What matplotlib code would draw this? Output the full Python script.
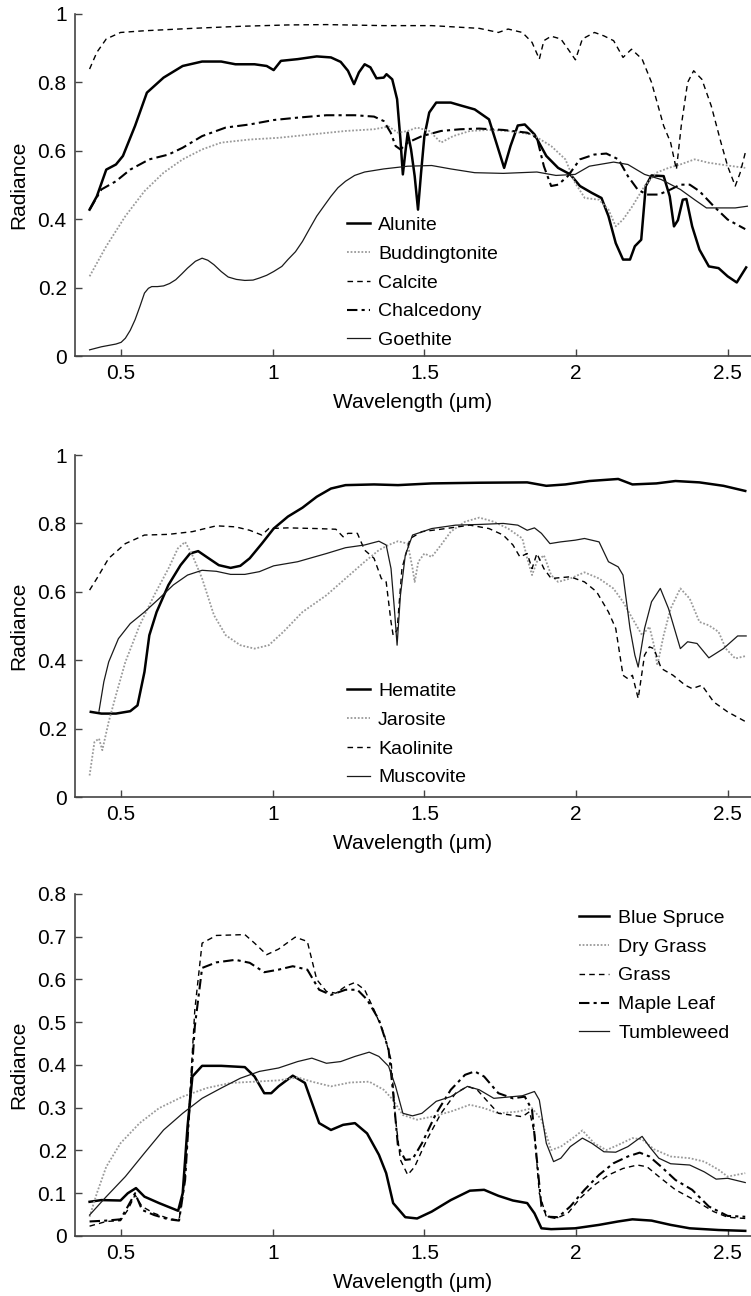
import matplotlib
matplotlib.use("Agg")
import matplotlib.pyplot as plt
from matplotlib.ticker import FuncFormatter

plt.rcParams['font.family'] = ['Liberation Sans', 'DejaVu Sans']
plt.rcParams['font.size'] = 15

# ---- panel 1: minerals ----
alunite_wl = [0.396, 0.42, 0.451, 0.483, 0.506, 0.546, 0.585, 0.64, 0.703, 0.767, 0.83, 0.877, 0.94, 0.98,
              1.003, 1.027, 1.082, 1.145, 1.192, 1.224, 1.248, 1.268, 1.284, 1.303, 1.322, 1.342, 1.366,
              1.375, 1.394, 1.41, 1.421, 1.429, 1.437, 1.445, 1.456, 1.468, 1.479, 1.489, 1.5, 1.516,
              1.539, 1.587, 1.618, 1.666, 1.713, 1.737, 1.763, 1.784, 1.808, 1.831, 1.863, 1.902, 1.941,
              1.981, 2.013, 2.052, 2.084, 2.107, 2.131, 2.155, 2.178, 2.194, 2.215, 2.23, 2.249, 2.289,
              2.309, 2.323, 2.336, 2.352, 2.364, 2.383, 2.407, 2.438, 2.47, 2.5, 2.53, 2.549, 2.561]
alunite_val = [0.428, 0.467, 0.545, 0.56, 0.585, 0.673, 0.77, 0.814, 0.848, 0.861, 0.861, 0.853, 0.853, 0.848,
               0.836, 0.863, 0.868, 0.876, 0.873, 0.86, 0.834, 0.795, 0.829, 0.853, 0.844, 0.812, 0.814,
               0.824, 0.809, 0.751, 0.633, 0.531, 0.594, 0.653, 0.604, 0.526, 0.428, 0.535, 0.643, 0.712,
               0.741, 0.741, 0.733, 0.721, 0.692, 0.624, 0.55, 0.614, 0.674, 0.677, 0.648, 0.585, 0.55,
               0.531, 0.497, 0.477, 0.462, 0.409, 0.33, 0.282, 0.282, 0.321, 0.34, 0.497, 0.528, 0.526,
               0.467, 0.379, 0.397, 0.457, 0.459, 0.379, 0.311, 0.262, 0.257, 0.233, 0.215, 0.242, 0.259]

buddingtonite_wl = [0.396, 0.451, 0.514, 0.577, 0.64, 0.703, 0.767, 0.83, 0.924, 1.019, 1.129, 1.24, 1.334,
                    1.382, 1.413, 1.445, 1.476, 1.516, 1.555, 1.595, 1.65, 1.713, 1.776, 1.855, 1.918,
                    1.965, 1.997, 2.029, 2.076, 2.107, 2.131, 2.155, 2.186, 2.226, 2.265, 2.305, 2.344,
                    2.391, 2.438, 2.5, 2.558]
buddingtonite_val = [0.233, 0.321, 0.409, 0.482, 0.536, 0.575, 0.604, 0.624, 0.633, 0.638, 0.648, 0.658, 0.663,
                     0.671, 0.653, 0.658, 0.668, 0.658, 0.624, 0.643, 0.658, 0.661, 0.658, 0.648, 0.614,
                     0.575, 0.506, 0.462, 0.457, 0.428, 0.379, 0.399, 0.438, 0.497, 0.536, 0.55, 0.56,
                     0.575, 0.565, 0.557, 0.55]

calcite_wl = [0.396, 0.42, 0.451, 0.498, 0.577, 0.735, 0.893, 1.05, 1.177, 1.366, 1.524, 1.681, 1.744,
              1.776, 1.823, 1.855, 1.879, 1.894, 1.918, 1.95, 1.974, 1.998, 2.021, 2.061, 2.092, 2.124,
              2.155, 2.183, 2.218, 2.249, 2.289, 2.312, 2.331, 2.347, 2.368, 2.388, 2.415, 2.446, 2.478,
              2.5, 2.525, 2.541, 2.558]
calcite_val = [0.839, 0.888, 0.927, 0.946, 0.951, 0.958, 0.964, 0.968, 0.969, 0.966, 0.966, 0.958, 0.946,
               0.956, 0.946, 0.917, 0.868, 0.922, 0.935, 0.927, 0.897, 0.866, 0.927, 0.946, 0.936, 0.922,
               0.873, 0.897, 0.868, 0.8, 0.673, 0.624, 0.545, 0.673, 0.8, 0.834, 0.809, 0.731, 0.624,
               0.555, 0.497, 0.535, 0.594]

chalcedony_wl = [0.396, 0.435, 0.483, 0.53, 0.593, 0.656, 0.703, 0.767, 0.845, 0.924, 1.003, 1.082, 1.177,
                 1.271, 1.334, 1.366, 1.389, 1.405, 1.421, 1.445, 1.492, 1.555, 1.618, 1.681, 1.76, 1.839,
                 1.871, 1.894, 1.918, 1.941, 1.973, 2.013, 2.06, 2.1, 2.14, 2.171, 2.203, 2.234, 2.273,
                 2.312, 2.344, 2.375, 2.407, 2.454, 2.5, 2.558]
chalcedony_val = [0.428, 0.487, 0.511, 0.545, 0.575, 0.589, 0.609, 0.643, 0.668, 0.677, 0.69, 0.697, 0.704,
                  0.704, 0.7, 0.687, 0.653, 0.614, 0.604, 0.624, 0.643, 0.658, 0.663, 0.665, 0.661, 0.653,
                  0.638, 0.555, 0.497, 0.501, 0.526, 0.575, 0.589, 0.592, 0.575, 0.526, 0.487, 0.472, 0.472,
                  0.487, 0.501, 0.501, 0.482, 0.438, 0.399, 0.371]

goethite_wl = [0.396, 0.435, 0.483, 0.5, 0.514, 0.53, 0.546, 0.562, 0.577, 0.59, 0.601, 0.62, 0.64, 0.66,
               0.68, 0.7, 0.719, 0.745, 0.767, 0.786, 0.806, 0.83, 0.853, 0.88, 0.908, 0.935, 0.956, 0.98,
               1.003, 1.03, 1.05, 1.075, 1.098, 1.12, 1.145, 1.17, 1.192, 1.215, 1.24, 1.27, 1.303, 1.366,
               1.445, 1.524, 1.587, 1.666, 1.76, 1.871, 1.934, 1.997, 2.044, 2.124, 2.171, 2.226, 2.281,
               2.344, 2.391, 2.43, 2.486, 2.525, 2.565]
goethite_val = [0.018, 0.027, 0.035, 0.04, 0.052, 0.075, 0.106, 0.145, 0.184, 0.198, 0.203, 0.203, 0.205, 0.212,
                0.223, 0.24, 0.257, 0.277, 0.286, 0.28, 0.267, 0.247, 0.231, 0.224, 0.221, 0.222, 0.228, 0.236,
                0.247, 0.262, 0.282, 0.305, 0.335, 0.37, 0.409, 0.44, 0.467, 0.492, 0.511, 0.528, 0.538, 0.547,
                0.555, 0.557, 0.547, 0.536, 0.534, 0.538, 0.528, 0.531, 0.555, 0.567, 0.56, 0.531, 0.516,
                0.487, 0.457, 0.433, 0.433, 0.433, 0.438]

# ---- panel 2: minerals ----
hematite_wl = [0.4, 0.435, 0.483, 0.53, 0.554, 0.577, 0.593, 0.617, 0.656, 0.696, 0.727, 0.754, 0.782,
               0.822, 0.861, 0.893, 0.924, 0.964, 1.003, 1.05, 1.098, 1.145, 1.192, 1.24, 1.334, 1.413,
               1.524, 1.681, 1.839, 1.902, 1.965, 2.044, 2.139, 2.186, 2.265, 2.328, 2.407, 2.486, 2.558]
hematite_val = [0.249, 0.244, 0.244, 0.251, 0.268, 0.366, 0.473, 0.541, 0.62, 0.678, 0.712, 0.719, 0.702,
                0.678, 0.67, 0.676, 0.698, 0.741, 0.785, 0.82, 0.846, 0.878, 0.902, 0.912, 0.914, 0.912,
                0.917, 0.919, 0.92, 0.91, 0.914, 0.924, 0.93, 0.914, 0.917, 0.924, 0.92, 0.91, 0.895]

jarosite_wl = [0.396, 0.412, 0.427, 0.438, 0.459, 0.483, 0.514, 0.561, 0.609, 0.656, 0.687, 0.711, 0.735,
               0.767, 0.806, 0.845, 0.893, 0.94, 0.987, 1.035, 1.098, 1.177, 1.24, 1.303, 1.35, 1.382,
               1.413, 1.445, 1.461, 1.468, 1.48, 1.5, 1.524, 1.555, 1.587, 1.634, 1.681, 1.729, 1.776,
               1.823, 1.839, 1.855, 1.871, 1.894, 1.918, 1.941, 1.981, 2.028, 2.076, 2.123, 2.155, 2.186,
               2.218, 2.242, 2.257, 2.268, 2.289, 2.312, 2.344, 2.375, 2.407, 2.438, 2.47, 2.494, 2.525,
               2.558]
jarosite_val = [0.063, 0.161, 0.171, 0.137, 0.22, 0.298, 0.395, 0.502, 0.59, 0.668, 0.727, 0.746, 0.707,
                0.639, 0.532, 0.473, 0.444, 0.434, 0.444, 0.483, 0.541, 0.59, 0.639, 0.688, 0.722, 0.737,
                0.748, 0.741, 0.668, 0.629, 0.688, 0.712, 0.702, 0.737, 0.776, 0.805, 0.817, 0.805, 0.785,
                0.756, 0.698, 0.649, 0.688, 0.707, 0.649, 0.629, 0.639, 0.657, 0.639, 0.61, 0.571, 0.522,
                0.473, 0.498, 0.444, 0.385, 0.473, 0.551, 0.61, 0.58, 0.512, 0.502, 0.483, 0.434, 0.405,
                0.412]

kaolinite_wl = [0.396, 0.42, 0.459, 0.514, 0.577, 0.656, 0.735, 0.814, 0.877, 0.924, 0.964, 0.987, 1.05,
                1.145, 1.208, 1.232, 1.248, 1.279, 1.303, 1.334, 1.358, 1.374, 1.39, 1.397, 1.41, 1.426,
                1.453, 1.492, 1.571, 1.65, 1.713, 1.76, 1.792, 1.815, 1.839, 1.855, 1.871, 1.894, 1.918,
                1.981, 2.028, 2.068, 2.107, 2.131, 2.155, 2.171, 2.186, 2.205, 2.226, 2.242, 2.257, 2.281,
                2.32, 2.36, 2.383, 2.415, 2.454, 2.5, 2.558]
kaolinite_val = [0.605, 0.639, 0.698, 0.741, 0.766, 0.768, 0.776, 0.793, 0.79, 0.78, 0.766, 0.785, 0.787,
                 0.785, 0.783, 0.761, 0.771, 0.771, 0.722, 0.698, 0.639, 0.629, 0.512, 0.473, 0.488, 0.668,
                 0.756, 0.776, 0.785, 0.795, 0.785, 0.766, 0.737, 0.702, 0.712, 0.668, 0.712, 0.668, 0.639,
                 0.644, 0.629, 0.6, 0.541, 0.493, 0.356, 0.346, 0.356, 0.288, 0.415, 0.439, 0.434, 0.376,
                 0.356, 0.327, 0.317, 0.327, 0.278, 0.249, 0.221]

muscovite_wl = [0.427, 0.443, 0.459, 0.491, 0.53, 0.577, 0.625, 0.672, 0.719, 0.767, 0.814, 0.861, 0.908,
                0.956, 1.003, 1.082, 1.177, 1.24, 1.303, 1.35, 1.374, 1.39, 1.401, 1.41, 1.421, 1.437,
                1.461, 1.524, 1.603, 1.681, 1.76, 1.808, 1.839, 1.863, 1.886, 1.914, 1.949, 1.997, 2.028,
                2.076, 2.107, 2.139, 2.155, 2.178, 2.194, 2.205, 2.226, 2.249, 2.278, 2.305, 2.344, 2.368,
                2.399, 2.438, 2.486, 2.533, 2.561]
muscovite_val = [0.251, 0.337, 0.395, 0.463, 0.507, 0.541, 0.58, 0.62, 0.649, 0.663, 0.66, 0.651, 0.651,
                 0.659, 0.676, 0.688, 0.712, 0.729, 0.737, 0.748, 0.737, 0.668, 0.551, 0.444, 0.59, 0.707,
                 0.766, 0.785, 0.795, 0.797, 0.8, 0.795, 0.78, 0.787, 0.771, 0.741, 0.746, 0.751, 0.756,
                 0.746, 0.688, 0.673, 0.649, 0.493, 0.415, 0.38, 0.493, 0.571, 0.61, 0.551, 0.434, 0.454,
                 0.449, 0.407, 0.434, 0.471, 0.471]

# ---- panel 3: vegetation ----
spruce_wl = [0.396, 0.435, 0.498, 0.522, 0.549, 0.577, 0.625, 0.688, 0.703, 0.719, 0.735, 0.767, 0.83,
             0.908, 0.94, 0.972, 0.995, 1.019, 1.066, 1.106, 1.153, 1.192, 1.232, 1.271, 1.311, 1.35,
             1.374, 1.397, 1.437, 1.476, 1.524, 1.587, 1.65, 1.697, 1.744, 1.792, 1.839, 1.863, 1.886,
             1.918, 1.997, 2.076, 2.139, 2.186, 2.249, 2.312, 2.375, 2.47, 2.558]
spruce_val = [0.08, 0.084, 0.083, 0.1, 0.112, 0.092, 0.077, 0.059, 0.1, 0.256, 0.373, 0.398, 0.398,
              0.395, 0.373, 0.334, 0.334, 0.35, 0.375, 0.358, 0.264, 0.248, 0.26, 0.264, 0.24, 0.19,
              0.147, 0.077, 0.044, 0.041, 0.057, 0.084, 0.106, 0.108, 0.094, 0.083, 0.077, 0.053, 0.018,
              0.016, 0.018, 0.026, 0.034, 0.039, 0.036, 0.026, 0.018, 0.014, 0.012]

drygrass_wl = [0.396, 0.42, 0.451, 0.498, 0.561, 0.625, 0.703, 0.782, 0.861, 0.94, 1.019, 1.082, 1.129,
               1.192, 1.255, 1.318, 1.366, 1.397, 1.429, 1.476, 1.524, 1.587, 1.65, 1.697, 1.744, 1.808,
               1.855, 1.886, 1.918, 1.95, 1.997, 2.021, 2.06, 2.1, 2.139, 2.186, 2.218, 2.257, 2.312,
               2.375, 2.423, 2.47, 2.5, 2.558]
drygrass_val = [0.045, 0.1, 0.162, 0.217, 0.264, 0.299, 0.326, 0.346, 0.358, 0.361, 0.364, 0.371, 0.361,
                0.35, 0.359, 0.361, 0.342, 0.318, 0.283, 0.272, 0.279, 0.291, 0.307, 0.299, 0.287, 0.291,
                0.299, 0.272, 0.201, 0.209, 0.233, 0.247, 0.217, 0.201, 0.213, 0.229, 0.226, 0.203, 0.186,
                0.182, 0.174, 0.155, 0.139, 0.147]

grass_wl = [0.396, 0.451, 0.498, 0.522, 0.546, 0.569, 0.609, 0.656, 0.691, 0.711, 0.727, 0.743, 0.767,
            0.814, 0.908, 0.94, 0.98, 1.019, 1.074, 1.114, 1.145, 1.177, 1.208, 1.24, 1.271, 1.303, 1.334,
            1.366, 1.39, 1.405, 1.421, 1.445, 1.468, 1.508, 1.555, 1.603, 1.642, 1.674, 1.713, 1.744,
            1.784, 1.823, 1.847, 1.863, 1.879, 1.902, 1.934, 1.973, 2.013, 2.06, 2.108, 2.155, 2.202,
            2.234, 2.273, 2.328, 2.391, 2.454, 2.5, 2.558]
grass_val = [0.023, 0.034, 0.036, 0.061, 0.096, 0.069, 0.053, 0.041, 0.037, 0.139, 0.334, 0.529, 0.685,
             0.703, 0.705, 0.685, 0.658, 0.671, 0.699, 0.689, 0.6, 0.572, 0.568, 0.584, 0.593, 0.576, 0.529,
             0.475, 0.412, 0.272, 0.178, 0.143, 0.162, 0.225, 0.287, 0.334, 0.35, 0.342, 0.311, 0.287,
             0.283, 0.279, 0.291, 0.24, 0.1, 0.045, 0.041, 0.053, 0.088, 0.119, 0.143, 0.158, 0.166,
             0.162, 0.139, 0.108, 0.084, 0.057, 0.044, 0.041]

maple_wl = [0.396, 0.451, 0.498, 0.522, 0.546, 0.569, 0.609, 0.656, 0.691, 0.711, 0.727, 0.743, 0.767,
            0.814, 0.877, 0.924, 0.972, 1.019, 1.066, 1.114, 1.153, 1.192, 1.24, 1.279, 1.311, 1.35, 1.382,
            1.397, 1.413, 1.437, 1.461, 1.492, 1.539, 1.587, 1.634, 1.666, 1.697, 1.744, 1.792, 1.831,
            1.855, 1.871, 1.886, 1.91, 1.941, 1.981, 2.028, 2.076, 2.123, 2.171, 2.21, 2.242, 2.281,
            2.328, 2.383, 2.438, 2.5, 2.558]
maple_val = [0.034, 0.036, 0.039, 0.069, 0.1, 0.061, 0.049, 0.039, 0.036, 0.131, 0.318, 0.49, 0.627,
             0.64, 0.646, 0.639, 0.617, 0.623, 0.631, 0.623, 0.576, 0.564, 0.576, 0.576, 0.553, 0.506, 0.436,
             0.334, 0.209, 0.178, 0.18, 0.217, 0.287, 0.342, 0.377, 0.385, 0.373, 0.334, 0.322, 0.326,
             0.295, 0.178, 0.069, 0.045, 0.044, 0.069, 0.108, 0.143, 0.17, 0.186, 0.195, 0.186, 0.162,
             0.131, 0.108, 0.069, 0.047, 0.045]

tumbleweed_wl = [0.396, 0.451, 0.514, 0.577, 0.64, 0.703, 0.767, 0.83, 0.893, 0.956, 1.019, 1.082, 1.129,
                 1.177, 1.224, 1.271, 1.318, 1.35, 1.382, 1.405, 1.429, 1.461, 1.492, 1.539, 1.587, 1.642,
                 1.681, 1.729, 1.776, 1.823, 1.863, 1.879, 1.902, 1.926, 1.95, 1.981, 2.021, 2.052, 2.092,
                 2.131, 2.171, 2.202, 2.218, 2.242, 2.273, 2.312, 2.375, 2.423, 2.462, 2.5, 2.558]
tumbleweed_val = [0.049, 0.092, 0.139, 0.194, 0.248, 0.287, 0.322, 0.346, 0.369, 0.385, 0.393, 0.408, 0.416,
                  0.404, 0.408, 0.42, 0.43, 0.42, 0.397, 0.35, 0.287, 0.281, 0.287, 0.315, 0.326, 0.35,
                  0.342, 0.322, 0.325, 0.328, 0.338, 0.318, 0.217, 0.174, 0.182, 0.209, 0.229, 0.217, 0.197,
                  0.196, 0.209, 0.225, 0.233, 0.209, 0.182, 0.169, 0.166, 0.15, 0.133, 0.135, 0.125]

x_ticks = [0.5, 1, 1.5, 2, 2.5]

thick = dict(color='black', lw=1.8, ls='-')
dotted = dict(color='#9a9a9a', lw=1.3, ls=(0, (1, 1)))
dashed = dict(color='black', lw=1.0, ls=(0, (4, 3)))
dashdot = dict(color='black', lw=1.5, ls=(0, (5, 2, 1.5, 2)))
thin = dict(color='#1a1a1a', lw=0.9, ls='-')

fig = plt.figure(figsize=(7.51, 12.96), dpi=100)
ax1 = fig.add_axes([0.0999, 0.7253, 0.9001, 0.2639])
ax2 = fig.add_axes([0.0999, 0.385, 0.9001, 0.2639])
ax3 = fig.add_axes([0.0999, 0.0463, 0.9001, 0.2639])

ax1.plot(alunite_wl, alunite_val, label='Alunite', **thick)
ax1.plot(buddingtonite_wl, buddingtonite_val, label='Buddingtonite', **dotted)
ax1.plot(calcite_wl, calcite_val, label='Calcite', **dashed)
ax1.plot(chalcedony_wl, chalcedony_val, label='Chalcedony', **dashdot)
ax1.plot(goethite_wl, goethite_val, label='Goethite', **thin)

ax2.plot(hematite_wl, hematite_val, label='Hematite', **thick)
ax2.plot(jarosite_wl, jarosite_val, label='Jarosite', **dotted)
ax2.plot(kaolinite_wl, kaolinite_val, label='Kaolinite', **dashed)
ax2.plot(muscovite_wl, muscovite_val, label='Muscovite', **thin)

ax3.plot(spruce_wl, spruce_val, label='Blue Spruce', **thick)
ax3.plot(drygrass_wl, drygrass_val, label='Dry Grass', **dotted)
ax3.plot(grass_wl, grass_val, label='Grass', **dashed)
ax3.plot(maple_wl, maple_val, label='Maple Leaf', **dashdot)
ax3.plot(tumbleweed_wl, tumbleweed_val, label='Tumbleweed', **thin)

fmt = FuncFormatter(lambda v, p: '%g' % round(v, 2))
for ax, ytop, step in [(ax1, 1, 0.2), (ax2, 1, 0.2), (ax3, 0.8, 0.1)]:
    ax.set_xlim(0.348, 2.577)
    ax.set_ylim(0, ytop)
    ax.set_xticks(x_ticks)
    n = int(round(ytop / step))
    ax.set_yticks([i * step for i in range(n + 1)])
    ax.xaxis.set_major_formatter(fmt)
    ax.yaxis.set_major_formatter(fmt)
    for s in ['top', 'right']:
        ax.spines[s].set_visible(False)
    for s in ['left', 'bottom']:
        ax.spines[s].set_color('#444444')
        ax.spines[s].set_linewidth(1.2)
    ax.tick_params(direction='in', length=5, width=1, color='#444444', labelsize=15, pad=6)
    ax.set_xlabel('Wavelength (\u03bcm)', fontsize=15, labelpad=7)
    ax.set_ylabel('Radiance', fontsize=15, labelpad=7)

leg_kw = dict(loc='upper left', frameon=False, borderpad=0, borderaxespad=0, labelspacing=0.58, fontsize=14)
ax1.legend(bbox_to_anchor=(0.402, 0.409), handlelength=1.2, handletextpad=0.4, **leg_kw)
ax2.legend(bbox_to_anchor=(0.402, 0.336), handlelength=1.2, handletextpad=0.4, **leg_kw)
ax3.legend(bbox_to_anchor=(0.746, 0.956), handlelength=1.55, handletextpad=0.46, **leg_kw)

fig.savefig('out.png', dpi=100)
